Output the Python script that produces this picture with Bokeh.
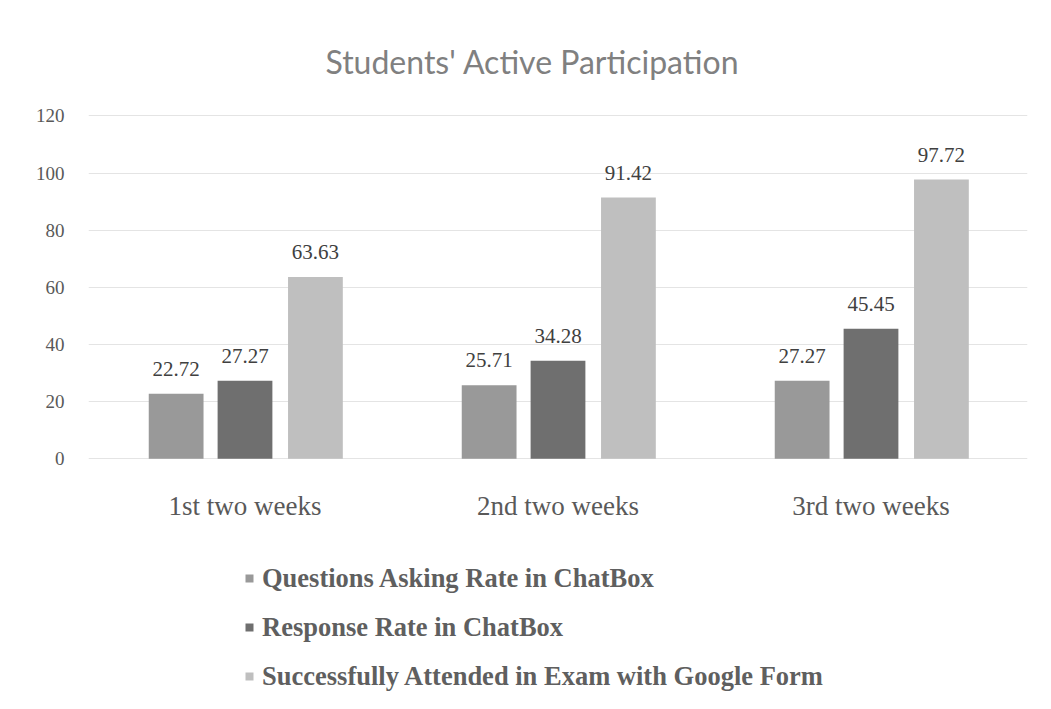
from bokeh.plotting import figure
from bokeh.models import ColumnDataSource, FactorRange, Legend, LegendItem, Range1d, FixedTicker, LabelSet
from bokeh.transform import dodge
from bokeh.core.properties import value
from bokeh.embed import file_html
from bokeh.resources import INLINE

categories = ["1st two weeks", "2nd two weeks", "3rd two weeks"]
series_names = ["Questions Asking Rate in ChatBox",
                "Response Rate in ChatBox",
                "Successfully Attended in Exam with Google Form"]
questions = [22.72, 25.71, 27.27]
responses = [27.27, 34.28, 45.45]
attended = [63.63, 91.42, 97.72]
y_ticks = [0, 20, 40, 60, 80, 100, 120]

colors = ["#999999", "#6f6f6f", "#bfbfbf"]
offsets = [-0.22, 0.0, 0.225]

W, H = 1043, 709
PX_PER_UNIT = (458 - 115) / 120.0
Y_MIN = -(705 - 458) / PX_PER_UNIT

src = ColumnDataSource(dict(
    cat=categories, s0=questions, s1=responses, s2=attended,
    zero=[0] * len(categories),
    l0=[f"{v:.2f}" for v in questions],
    l1=[f"{v:.2f}" for v in responses],
    l2=[f"{v:.2f}" for v in attended],
))

p = figure(x_range=FactorRange(*categories, range_padding=0),
           y_range=Range1d(Y_MIN, 120.5),
           width=W, height=H, output_backend="svg", toolbar_location=None,
           min_border_left=88, min_border_right=W - 1027, min_border_top=114,
           min_border_bottom=H - 705)
p.outline_line_color = None
p.background_fill_color = "white"
p.border_fill_color = "white"

p.title.text = "Students' Active Participation"
p.title.align = "left"
p.title.offset = 237
p.title.standoff = 68
p.title.text_font = "Lato"
p.title.text_font_size = "32px"
p.title.text_font_style = "normal"
p.title.text_color = "#808080"

renderers = []
for i, key in enumerate(["s0", "s1", "s2"]):
    r = p.vbar(x=dodge("cat", offsets[i], range=p.x_range), top=key, width=0.175,
               source=src, fill_color=colors[i], line_color=None)
    renderers.append(r)
    lbl = LabelSet(x=dodge("cat", offsets[i], range=p.x_range), y=key, text=f"l{i}",
                   source=src, text_align="center", text_baseline="bottom", y_offset=18,
                   text_font=value("Liberation Serif"), text_font_size="21px",
                   text_color="#404040")
    p.add_layout(lbl)

# category labels (x axis hidden because the frame extends under the legend)
cat_labels = LabelSet(x="cat", y="zero", text="cat", source=src, y_offset=-47,
                      text_align="center", text_baseline="middle",
                      text_font=value("Liberation Serif"), text_font_size="27px",
                      text_color="#595959")
p.add_layout(cat_labels)
p.xaxis.visible = False

# y axis
p.yaxis.ticker = FixedTicker(ticks=y_ticks)
p.yaxis.axis_line_color = None
p.yaxis.major_tick_line_color = None
p.yaxis.minor_tick_line_color = None
p.yaxis.major_label_text_font = "Liberation Serif"
p.yaxis.major_label_text_font_size = "19px"
p.yaxis.major_label_text_color = "#595959"
p.yaxis.major_label_standoff = 18

p.xgrid.grid_line_color = None
p.ygrid.grid_line_color = "#e4e4e4"
p.ygrid.grid_line_width = 1

legend = Legend(items=[LegendItem(label=series_names[i], renderers=[renderers[i]]) for i in range(3)],
                location=(156, 9), orientation="vertical",
                glyph_width=10, glyph_height=10, label_height=40, spacing=9,
                padding=0, margin=0, border_line_color=None, background_fill_alpha=0,
                label_text_font="Liberation Serif", label_text_font_size="26.5px",
                label_text_font_style="bold",
                label_text_color="#5f5f5f", label_standoff=8)
p.add_layout(legend, "center")

open("out.html", "w").write(file_html(p, INLINE))
